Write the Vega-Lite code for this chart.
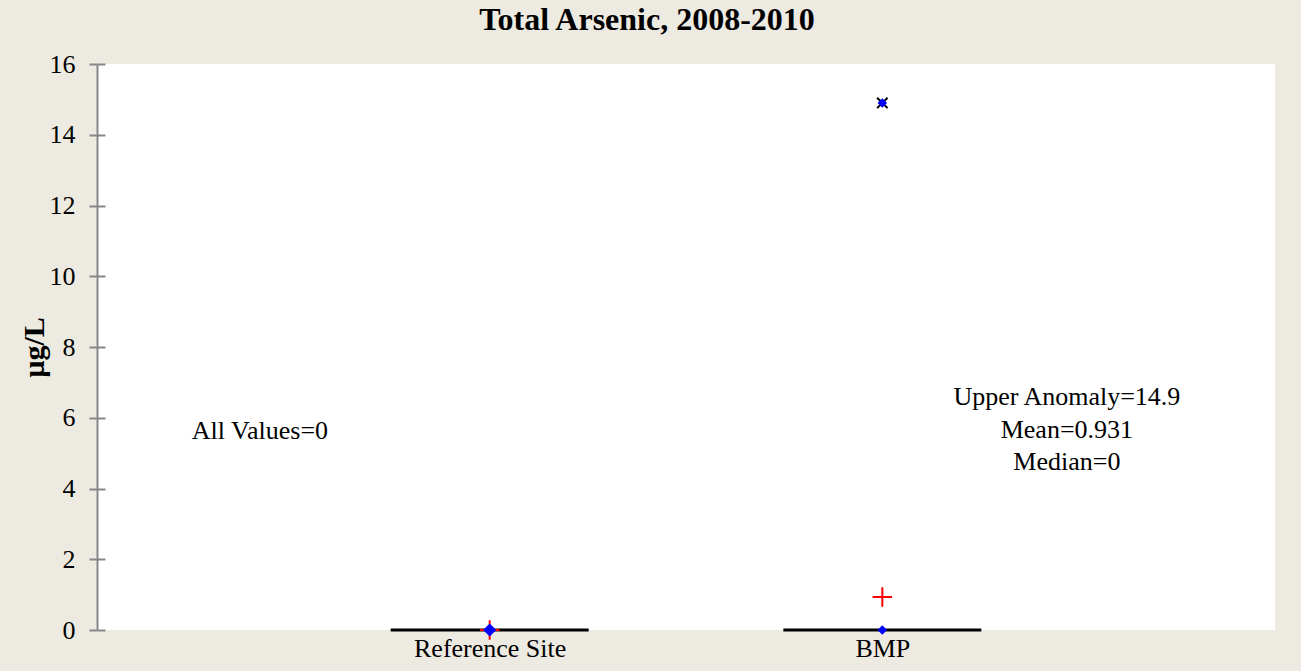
{
  "$schema": "https://vega.github.io/schema/vega-lite/v6.json",
  "autosize": "none",
  "width": 1178,
  "height": 566,
  "padding": {"left": 97, "top": 64, "right": 26, "bottom": 41},
  "background": "#EDEAE1",
  "config": {
    "font": "Liberation Serif",
    "view": {"fill": "white", "stroke": null}
  },
  "title": {
    "text": "Total Arsenic, 2008-2010",
    "font": "Liberation Serif",
    "fontSize": 32,
    "fontWeight": "bold",
    "color": "black",
    "anchor": "middle",
    "frame": "bounds",
    "offset": 14
  },
  "resolve": {"scale": {"y": "shared"}, "axis": {"y": "independent"}},
  "datasets": {
    "points": [
      {"site": 1, "value": 0, "kind": "Data"},
      {"site": 2, "value": 0, "kind": "Data"},
      {"site": 2, "value": 14.9, "kind": "Upper Anomaly"}
    ],
    "means": [
      {"site": 1, "value": 0},
      {"site": 2, "value": 0.931}
    ],
    "medians": [
      {"site": 1, "value": 0},
      {"site": 2, "value": 0}
    ],
    "notes": [
      {"x": 0.415, "y": 5.63, "label": "All Values=0"},
      {"x": 2.47, "y": 6.59, "label": "Upper Anomaly=14.9"},
      {"x": 2.47, "y": 5.65, "label": "Mean=0.931"},
      {"x": 2.47, "y": 4.75, "label": "Median=0"}
    ]
  },
  "encoding": {
    "x": {
      "field": "site",
      "type": "quantitative",
      "scale": {"domain": [0, 3], "nice": false, "zero": false},
      "axis": {
        "values": [1, 2],
        "labelExpr": "datum.value == 1 ? 'Reference Site' : 'BMP'",
        "title": null,
        "domain": false,
        "ticks": false,
        "grid": false,
        "labelFontSize": 26,
        "labelColor": "black",
        "labelPadding": 5,
        "labelFont": "Liberation Serif"
      }
    }
  },
  "layer": [
    {
      "data": {"name": "medians"},
      "mark": {"type": "tick", "orient": "horizontal", "size": 198, "thickness": 3, "color": "black", "opacity": 1, "clip": false},
      "encoding": {
        "y": {
          "field": "value",
          "type": "quantitative",
          "scale": {"domain": [0, 16], "nice": false},
          "axis": {
            "orient": "left",
            "values": [0, 2, 4, 6, 8, 10, 12, 14, 16],
            "title": "µg/L",
            "titleFontSize": 30,
            "titleFontWeight": "bold",
            "titleColor": "black",
            "titleFont": "Liberation Serif",
            "titlePadding": 0,
            "grid": false,
            "domainColor": "#878787",
            "domainWidth": 2,
            "tickColor": "#878787",
            "tickWidth": 2,
            "tickSize": 8,
            "labelFontSize": 26,
            "labelColor": "black",
            "labelPadding": 14,
            "labelFont": "Liberation Serif"
          }
        }
      }
    },
    {
      "data": {"name": "means"},
      "mark": {"type": "point", "shape": "M-1,0L1,0M0,-1L0,1", "filled": false, "stroke": "#FF0000", "strokeWidth": 2, "size": 380, "clip": false, "opacity": 1},
      "encoding": {
        "y": {
          "field": "value",
          "type": "quantitative",
          "axis": {
            "orient": "left",
            "values": [0, 2, 4, 6, 8, 10, 12, 14, 16],
            "title": null,
            "labels": false,
            "domain": false,
            "grid": false,
            "tickColor": "#878787",
            "tickWidth": 2,
            "tickSize": -8
          }
        }
      }
    },
    {
      "data": {"name": "points"},
      "transform": [{"filter": "datum.kind == 'Upper Anomaly'"}],
      "mark": {"type": "point", "shape": "M-1,-1L1,1M-1,1L1,-1", "filled": false, "stroke": "black", "strokeWidth": 2, "size": 110, "opacity": 1},
      "encoding": {"y": {"field": "value", "type": "quantitative", "axis": null}}
    },
    {
      "data": {"name": "points"},
      "transform": [{"filter": "datum.site == 1"}],
      "mark": {"type": "point", "shape": "diamond", "filled": true, "color": "#0000FF", "size": 170, "opacity": 1, "clip": false},
      "encoding": {"y": {"field": "value", "type": "quantitative", "axis": null}}
    },
    {
      "data": {"name": "points"},
      "transform": [{"filter": "datum.site == 2"}],
      "mark": {"type": "point", "shape": "diamond", "filled": true, "color": "#0000FF", "size": 90, "opacity": 1, "clip": false},
      "encoding": {"y": {"field": "value", "type": "quantitative", "axis": null}}
    },
    {
      "data": {"name": "notes"},
      "mark": {"type": "text", "font": "Liberation Serif", "fontSize": 26, "color": "black", "align": "center", "baseline": "middle"},
      "encoding": {
        "x": {"field": "x", "type": "quantitative"},
        "y": {"field": "y", "type": "quantitative", "axis": null},
        "text": {"field": "label"}
      }
    }
  ]
}
